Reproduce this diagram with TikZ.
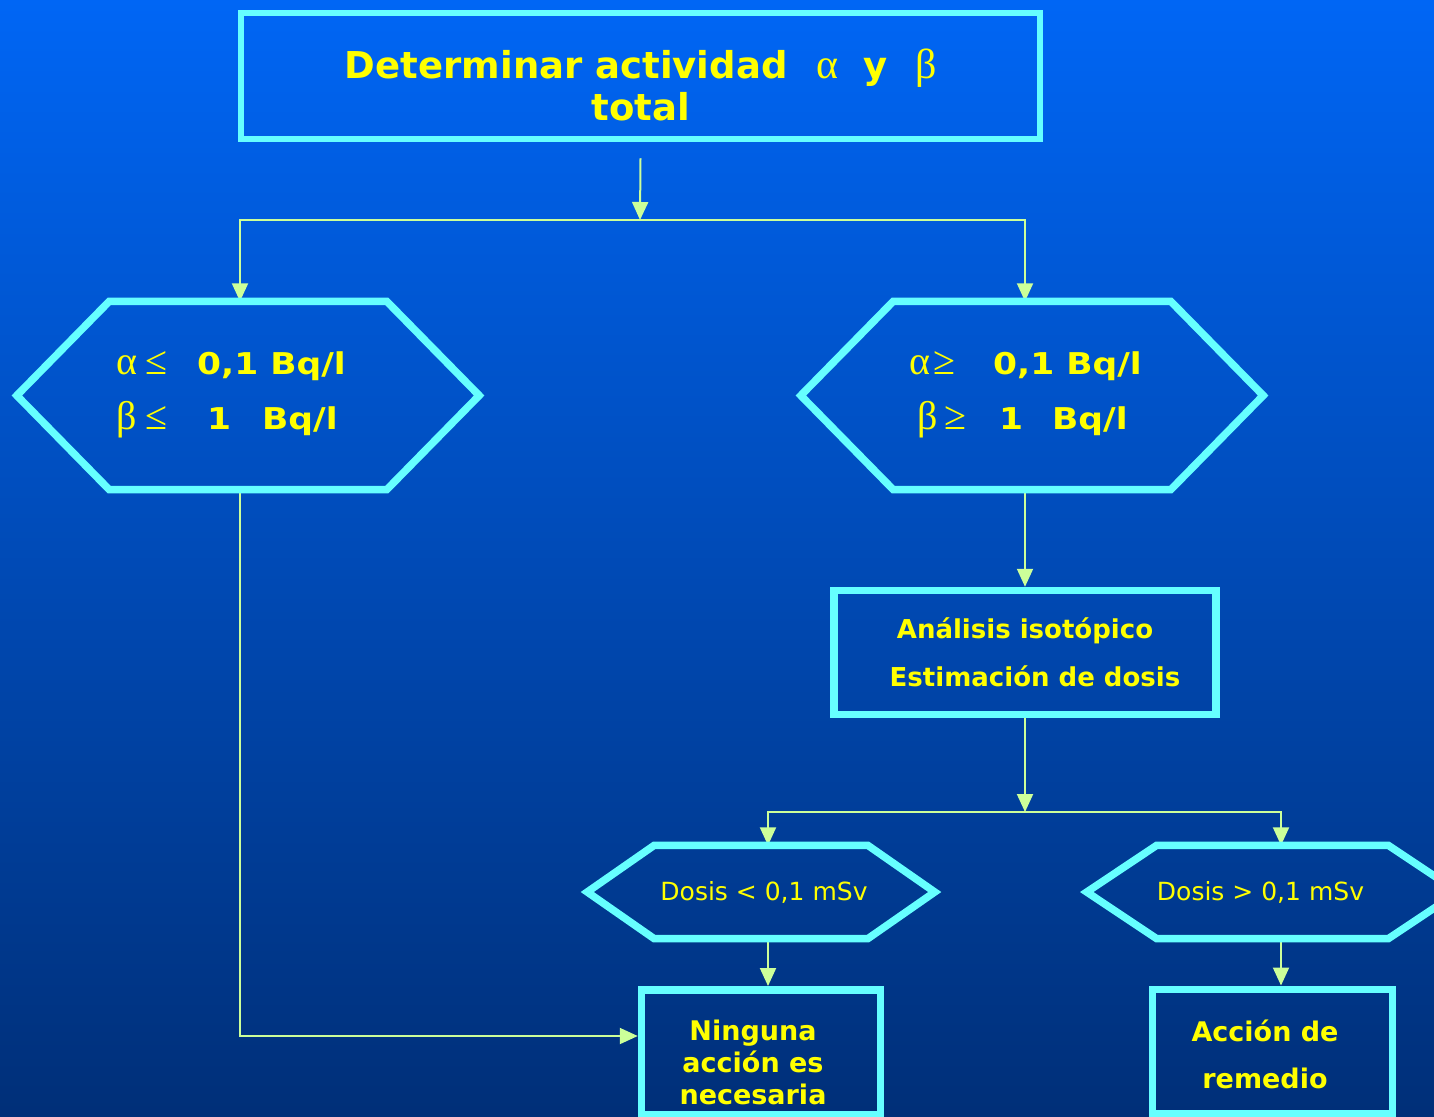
\documentclass[tikz,border=0pt]{standalone}
\usepackage{fontspec}
\setmainfont{DejaVu Sans}
\newfontfamily\grk{Liberation Serif}
\newfontfamily\ancha[FakeStretch=1.15]{DejaVu Sans}
\usepackage{xcolor}
\definecolor{fondoA}{HTML}{0066F5}
\definecolor{fondoB}{HTML}{002F78}
\definecolor{borde}{HTML}{66FFFF}
\definecolor{texto}{HTML}{FFFF00}
\definecolor{flecha}{HTML}{CCFF99}
\usepackage{tikz}
\usetikzlibrary{arrows.meta, positioning, backgrounds, calc}

% hexagon outline round a rectangle node: node name, width of the point
\newcommand{\hexborde}[2]{%
  \draw[borde, line width=7.5pt, line join=miter]
    (#1.north west) -- (#1.north east) -- ([xshift=#2]#1.east)
    -- (#1.south east) -- (#1.south west) -- ([xshift=-#2]#1.west) -- cycle;}
\newcommand{\gsim}[1]{{\grk\fontsize{40}{55}\selectfont #1}}

\begin{document}
\begin{tikzpicture}[
    x=1pt, y=-1pt,
    caja/.style={
        rectangle, draw=borde, line width=7.5pt, inner sep=0pt,
        text=texto, align=center
    },
    hexa/.style={rectangle, inner sep=0pt, text=texto, align=center},
    rotulo/.style={inner sep=0pt, text=texto, align=center},
    flujo/.style={draw=flecha, line width=2pt, -{Triangle[length=18pt, width=16pt]}}
]
\useasboundingbox (0,0) rectangle (1434,1116);

\node[caja, line width=6.5pt, minimum width=799pt, minimum height=126pt] (titulo) at (640.5,76) {};
\node[rotulo, font=\bfseries\fontsize{37}{42}\selectfont] (titulo-t) at (641,85)
    {Determinar actividad\hspace{29pt}{\grk\mdseries\fontsize{42}{42}\selectfont α}\hspace{25pt}y\hspace{28pt}{\grk\mdseries\fontsize{42}{42}\selectfont β}\\total};

\node[hexa, minimum width=277pt, minimum height=188pt] (hexIzq) at (248,395.5) {};
\hexborde{hexIzq}{92.5pt}
\node[rotulo, anchor=west, align=left, font=\ancha\fontsize{30}{55}\selectfont] (hexIzq-t) at (116,395)
    {\makebox[29pt][l]{\gsim{α}}\makebox[52pt][l]{\gsim{≤}}\textbf{0,1 Bq/l}\\
     \makebox[29pt][l]{\gsim{β}}\makebox[62pt][l]{\gsim{≤}}\makebox[55pt][l]{\textbf{1}}\textbf{Bq/l}};

\node[hexa, minimum width=277pt, minimum height=188pt] (hexDer) at (1032,395.5) {};
\hexborde{hexDer}{92.5pt}
\node[rotulo, anchor=west, align=left, font=\ancha\fontsize{30}{55}\selectfont] (hexDer-t) at (909,395)
    {\makebox[24pt][l]{\gsim{α}}\makebox[60pt][l]{\gsim{≥}}\textbf{0,1 Bq/l}\\
     \hspace*{8pt}\makebox[27pt][l]{\gsim{β}}\makebox[55pt][l]{\gsim{≥}}\makebox[53pt][l]{\textbf{1}}\textbf{Bq/l}};

\node[caja, minimum width=382pt, minimum height=124pt, font=\bfseries\fontsize{26}{48}\selectfont] (analisis) at (1025,652.5)
    {Análisis isotópico\\\hspace*{20pt}Estimación de dosis};

\node[hexa, minimum width=198pt, minimum height=93pt, font=\fontsize{25}{30}\selectfont] (dosisMenor) at (761,892)
    {\hspace*{6pt}Dosis < 0,1 mSv};
\hexborde{dosisMenor}{67pt}
\node[hexa, minimum width=200pt, minimum height=93pt, font=\fontsize{25}{30}\selectfont] (dosisMayor) at (1272.5,892)
    {Dosis > 0,1 mSv\hspace*{24pt}};
\hexborde{dosisMayor}{70pt}

\node[caja, minimum width=239pt, minimum height=124.5pt] (ninguna) at (761,1052) {};
\node[rotulo, font=\bfseries\fontsize{27}{32}\selectfont] (ninguna-t) at (753,1062) {Ninguna\\acción es\\necesaria};
\node[caja, minimum width=240pt, minimum height=124.5pt] (remedio) at (1272.5,1051.5) {};
\node[rotulo, font=\bfseries\fontsize{27}{47}\selectfont] (remedio-t) at (1265,1054) {Acción de\\remedio};

\coordinate (rep1) at (640,220);
\coordinate (rep2) at (1025,812);

\begin{scope}[on background layer]
\shade[top color=fondoA, bottom color=fondoB] (0,0) rectangle (1434,1116);
\draw[flujo] ([yshift=-16pt]titulo.south) -- (rep1);
\draw[flujo] (rep1) -| ([xshift=-8pt]hexIzq.north);
\draw[flujo] (rep1) -| ([xshift=-7pt]hexDer.north);
\draw[flujo] ([xshift=-8pt]hexIzq.south) |- ([yshift=16pt]ninguna.west);
\draw[flujo] ([xshift=-7pt]hexDer.south) -- (analisis.north);
\draw[flujo] (analisis.south) -- (rep2);
\draw[flujo] (rep2) -| ([xshift=7pt]dosisMenor.north);
\draw[flujo] (rep2) -| ([xshift=8.5pt]dosisMayor.north);
\draw[flujo] ([xshift=7pt]dosisMenor.south) -- ([xshift=7pt]ninguna.north);
\draw[flujo] ([xshift=8.5pt]dosisMayor.south) -- ([xshift=8.5pt]remedio.north);
\end{scope}
\end{tikzpicture}
\end{document}
